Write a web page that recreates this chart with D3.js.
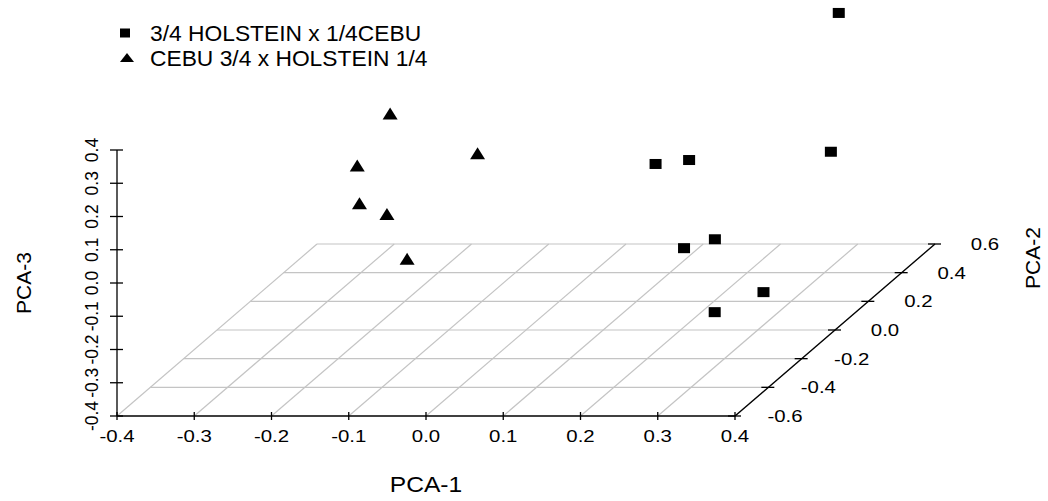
<!DOCTYPE html>
<html>
<head>
<meta charset="utf-8">
<script src="https://cdn.jsdelivr.net/npm/d3@7"></script>
<style>
  body { margin: 0; background: #fff; }
  text { font-family: "Liberation Sans", Arial, Helvetica, sans-serif; fill: #000; }
</style>
</head>
<body>
<div id="chart"></div>
<script>
// 3D scatter (scatterplot3d style) of PCA scores for two crossbreeds

// Data
const groups = ["3/4 HOLSTEIN x 1/4CEBU", "CEBU 3/4 x HOLSTEIN 1/4"];

const holsteinPCA1 = [0.297, 0.276, 0.103, 0.168, 0.183, 0.169, 0.329, 0.309];
const holsteinPCA2 = [0.50, 0.55, 0.30, 0.20, 0.10, 0.35, -0.10, -0.30];
const holsteinPCA3 = [0.338, -0.101, -0.030, 0.025, -0.197, -0.278, -0.243, -0.217];

const cebuPCA1 = [-0.219, -0.149, -0.240, -0.194, -0.180, -0.251];
const cebuPCA2 = [0.20, 0.40, 0.10, -0.10, 0.00, 0.45];
const cebuPCA3 = [0.165, -0.041, 0.052, 0.024, -0.051, -0.380];

const pca1Ticks = [-0.4, -0.3, -0.2, -0.1, 0.0, 0.1, 0.2, 0.3, 0.4];
const pca3Ticks = [-0.4, -0.3, -0.2, -0.1, 0.0, 0.1, 0.2, 0.3, 0.4];
const pca2Ticks = [-0.6, -0.4, -0.2, 0.0, 0.2, 0.4, 0.6];

const W = 1048, H = 501;

const svg = d3.select("#chart")
    .append("svg")
    .attr("width", W)
    .attr("height", H);

// scales: x along the front, z up, y goes back and up-right
const x = d3.scaleLinear().domain([-0.4, 0.4]).range([117, 735]);
const z = d3.scaleLinear().domain([-0.4, 0.4]).range([416, 150]);
const yDx = d3.scaleLinear().domain([-0.6, 0.6]).range([0, 200]);
const yDy = d3.scaleLinear().domain([-0.6, 0.6]).range([0, -172]);

const px = (a, b) => x(a) + yDx(b);
const py = (b, c) => z(c) + yDy(b);

const fmt = d3.format(".1f");
const fmtTick = d => fmt(d).replace("−", "-");

const gridColor = "#c4c4c4";
const zMin = -0.4;

// Floor grid
const grid = svg.append("g").attr("stroke", gridColor).attr("stroke-width", 1.2);

grid.selectAll(".gx")
    .data(pca1Ticks)
    .enter()
    .append("line")
    .attr("x1", d => px(d, -0.6))
    .attr("y1", py(-0.6, zMin))
    .attr("x2", d => px(d, 0.6))
    .attr("y2", py(0.6, zMin));

grid.selectAll(".gy")
    .data(pca2Ticks.slice(1))
    .enter()
    .append("line")
    .attr("x1", d => px(-0.4, d))
    .attr("y1", d => py(d, zMin))
    .attr("x2", d => px(0.4, d))
    .attr("y2", d => py(d, zMin));

// Axes
const axes = svg.append("g").attr("stroke", "#000").attr("stroke-width", 1.3);

// PCA-1 (front bottom)
axes.append("line")
    .attr("x1", x(-0.4)).attr("y1", z(zMin))
    .attr("x2", x(0.4)).attr("y2", z(zMin));
axes.selectAll(".tx")
    .data(pca1Ticks)
    .enter()
    .append("line")
    .attr("x1", d => x(d)).attr("x2", d => x(d))
    .attr("y1", z(zMin) - 4).attr("y2", z(zMin) + 4);

// PCA-3 (left vertical)
axes.append("line")
    .attr("x1", x(-0.4)).attr("y1", z(-0.4))
    .attr("x2", x(-0.4)).attr("y2", z(0.4));
axes.selectAll(".tz")
    .data(pca3Ticks)
    .enter()
    .append("line")
    .attr("x1", x(-0.4) - 7).attr("x2", x(-0.4) + 6)
    .attr("y1", d => z(d)).attr("y2", d => z(d));

// PCA-2 (right diagonal)
axes.append("line")
    .attr("x1", px(0.4, -0.6)).attr("y1", py(-0.6, zMin))
    .attr("x2", px(0.4, 0.6)).attr("y2", py(0.6, zMin));
axes.selectAll(".ty")
    .data(pca2Ticks)
    .enter()
    .append("line")
    .attr("x1", d => px(0.4, d) - 7).attr("x2", d => px(0.4, d) + 6)
    .attr("y1", d => py(d, zMin)).attr("y2", d => py(d, zMin));

// Tick labels
const tickSize = 17, stretch = 1.2;

svg.append("g").selectAll("text")
    .data(pca1Ticks)
    .enter()
    .append("text")
    .attr("text-anchor", "middle")
    .attr("transform", d => `translate(${x(d)},${z(zMin) + 26}) scale(${stretch},1)`)
    .style("font-size", tickSize + "px")
    .text(fmtTick);

svg.append("g").selectAll("text")
    .data(pca3Ticks)
    .enter()
    .append("text")
    .attr("text-anchor", "middle")
    .attr("transform", d => `translate(98,${z(d)}) rotate(-90)`)
    .style("font-size", "17.5px")
    .text(fmtTick);

svg.append("g").selectAll("text")
    .data(pca2Ticks)
    .enter()
    .append("text")
    .attr("text-anchor", "middle")
    .attr("transform", d => `translate(${px(0.4, d) + 50},${py(d, zMin) + 6}) scale(${stretch},1)`)
    .style("font-size", tickSize + "px")
    .text(fmtTick);

// Axis titles
svg.append("text")
    .attr("text-anchor", "middle")
    .attr("transform", `translate(${x(0)},492) scale(1.12,1)`)
    .style("font-size", "22px")
    .text("PCA-1");

svg.append("text")
    .attr("text-anchor", "middle")
    .attr("transform", `translate(31,${(z(-0.4) + z(0.4)) / 2}) rotate(-90)`)
    .style("font-size", "21px")
    .text("PCA-3");

svg.append("text")
    .attr("text-anchor", "middle")
    .attr("transform", "translate(1040,258) rotate(-90)")
    .style("font-size", "21px")
    .text("PCA-2");

// Markers (picture is a little wide, so markers are wider than tall)
const sqW = 12, sqH = 10;
const triW = 15, triH = 12;
const triPath = (cx, cy) =>
    `M${cx - triW / 2},${cy + triH / 2}L${cx + triW / 2},${cy + triH / 2}L${cx},${cy - triH / 2}Z`;

const holstein = holsteinPCA1.map((v, i) => ({ a: v, b: holsteinPCA2[i], c: holsteinPCA3[i] }));
const cebu = cebuPCA1.map((v, i) => ({ a: v, b: cebuPCA2[i], c: cebuPCA3[i] }));

svg.append("g").selectAll("rect")
    .data(holstein)
    .enter()
    .append("rect")
    .attr("x", d => px(d.a, d.b) - sqW / 2)
    .attr("y", d => py(d.b, d.c) - sqH / 2)
    .attr("width", sqW)
    .attr("height", sqH)
    .attr("fill", "#000");

svg.append("g").selectAll("path")
    .data(cebu)
    .enter()
    .append("path")
    .attr("d", d => triPath(px(d.a, d.b), py(d.b, d.c)))
    .attr("fill", "#000");

// Legend
const legend = svg.append("g");
legend.append("rect")
    .attr("x", 125 - 5).attr("y", 33 - 4.5)
    .attr("width", 10).attr("height", 9)
    .attr("fill", "#000");
legend.append("path")
    .attr("d", "M120,62L134,62L127,53Z")
    .attr("fill", "#000");
legend.selectAll("text")
    .data(groups)
    .enter()
    .append("text")
    .attr("x", 150)
    .attr("y", (d, i) => 41 + i * 25)
    .style("font-size", "22.8px")
    .text(d => d);
</script>
</body>
</html>
